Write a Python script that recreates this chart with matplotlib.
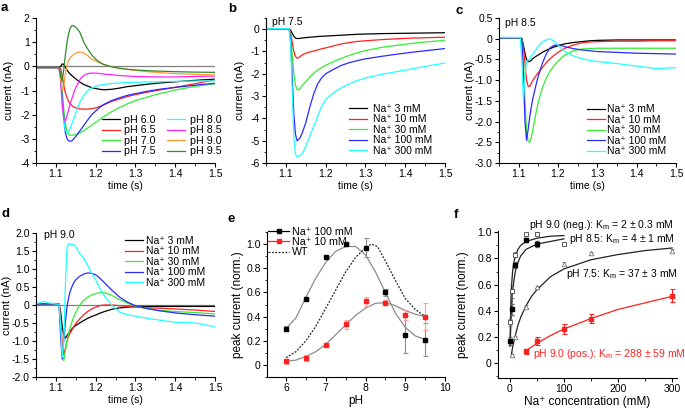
import matplotlib
matplotlib.use('Agg')
import matplotlib.pyplot as plt
from matplotlib.ticker import MultipleLocator, FuncFormatter
from matplotlib.lines import Line2D

plt.rcParams['font.family'] = ['Liberation Sans', 'DejaVu Sans']
plt.rcParams['axes.unicode_minus'] = False
plt.rcParams['font.size'] = 7.5
plt.rcParams['mathtext.fontset'] = 'custom'
plt.rcParams['mathtext.rm'] = 'Liberation Sans'
plt.rcParams['mathtext.it'] = 'Liberation Sans:italic'

# ---------------- data ----------------
# panel a: pH series at Na+ 100 mM
T_A = [1.05, 1.108, 1.112, 1.116, 1.12, 1.124, 1.128, 1.132, 1.136, 1.14, 1.145, 1.15, 1.16, 1.17,
       1.18, 1.19, 1.2, 1.21, 1.22, 1.24, 1.26, 1.28, 1.3, 1.33, 1.36, 1.4, 1.45, 1.5]
PH_LABELS = ['pH 6.0', 'pH 6.5', 'pH 7.0', 'pH 7.5', 'pH 8.0', 'pH 8.5', 'pH 9.0', 'pH 9.5']
A_PH60 = [-0.05, -0.05, 0.0, 0.1, 0.08, -0.05, -0.15, -0.25, -0.32, -0.38, -0.45, -0.52, -0.65, -0.75,
          -0.82, -0.88, -0.92, -0.95, -0.97, -0.95, -0.9, -0.84, -0.8, -0.74, -0.69, -0.64, -0.58, -0.53]
A_PH65 = [-0.05, -0.05, -0.1, -0.4, -0.8, -1.1, -1.3, -1.45, -1.55, -1.62, -1.68, -1.72, -1.76, -1.77,
          -1.77, -1.75, -1.72, -1.66, -1.6, -1.45, -1.35, -1.25, -1.17, -1.07, -0.98, -0.87, -0.72, -0.56]
A_PH70 = [-0.05, -0.05, -0.3, -1.0, -1.8, -2.4, -2.7, -2.82, -2.85, -2.85, -2.84, -2.82, -2.76, -2.66,
          -2.55, -2.43, -2.32, -2.2, -2.08, -1.88, -1.7, -1.55, -1.42, -1.27, -1.13, -0.98, -0.83, -0.72]
A_PH75 = [-0.05, -0.05, -0.4, -1.3, -2.2, -2.75, -3.0, -3.08, -3.1, -3.08, -3.0, -2.9, -2.68, -2.45,
          -2.22, -2.0, -1.85, -1.7, -1.58, -1.42, -1.3, -1.2, -1.13, -1.03, -0.95, -0.87, -0.78, -0.7]
A_PH80 = [-0.05, -0.05, -0.5, -1.5, -2.3, -2.65, -2.75, -2.7, -2.55, -2.38, -2.15, -1.92, -1.5, -1.2,
          -1.0, -0.9, -0.83, -0.78, -0.75, -0.71, -0.69, -0.67, -0.66, -0.65, -0.64, -0.62, -0.61, -0.6]
A_PH85 = [-0.05, -0.05, -0.6, -1.6, -2.2, -2.25, -2.05, -1.8, -1.55, -1.35, -1.1, -0.88, -0.55, -0.38,
          -0.3, -0.28, -0.28, -0.3, -0.32, -0.35, -0.38, -0.4, -0.42, -0.43, -0.44, -0.44, -0.42, -0.4]
A_PH90 = [-0.05, -0.05, -0.5, -1.0, -0.8, -0.3, 0.05, 0.25, 0.35, 0.42, 0.5, 0.55, 0.6, 0.55,
          0.45, 0.3, 0.22, 0.14, 0.08, -0.02, -0.08, -0.13, -0.17, -0.22, -0.26, -0.3, -0.33, -0.36]
A_PH95 = [-0.05, -0.05, -0.4, -0.6, -0.1, 0.5, 1.0, 1.35, 1.58, 1.68, 1.68, 1.62, 1.42, 1.0,
          0.72, 0.47, 0.3, 0.17, 0.08, -0.02, -0.08, -0.12, -0.15, -0.18, -0.2, -0.22, -0.24, -0.25]

NA_LABELS = ['Na\u207a 3 mM', 'Na\u207a 10 mM', 'Na\u207a 30 mM', 'Na\u207a 100 mM', 'Na\u207a 300 mM']

# panel b: pH 7.5
T_B = [1.05, 1.108, 1.112, 1.116, 1.12, 1.124, 1.128, 1.132, 1.136, 1.14, 1.145, 1.15, 1.16, 1.17,
       1.18, 1.19, 1.2, 1.22, 1.24, 1.26, 1.28, 1.3, 1.34, 1.38, 1.42, 1.46, 1.5]
B_NA3 = [0.02, 0.02, -0.05, -0.2, -0.32, -0.4, -0.42, -0.42, -0.41, -0.4, -0.39, -0.38, -0.36, -0.35,
         -0.33, -0.32, -0.31, -0.29, -0.27, -0.25, -0.23, -0.22, -0.2, -0.19, -0.18, -0.17, -0.16]
B_NA10 = [0.02, 0.02, -0.15, -0.6, -1.0, -1.22, -1.3, -1.28, -1.22, -1.17, -1.12, -1.08, -1.02, -0.98,
          -0.93, -0.88, -0.84, -0.75, -0.66, -0.6, -0.55, -0.52, -0.47, -0.43, -0.4, -0.38, -0.36]
B_NA30 = [0.02, 0.02, -0.3, -1.2, -2.0, -2.5, -2.7, -2.72, -2.65, -2.55, -2.45, -2.35, -2.15, -1.97,
          -1.83, -1.72, -1.62, -1.45, -1.3, -1.17, -1.06, -0.96, -0.82, -0.72, -0.63, -0.56, -0.5]
B_NA100 = [0.02, 0.02, -0.5, -2.2, -3.8, -4.7, -5.0, -4.95, -4.85, -4.7, -4.45, -4.2, -3.5, -2.9,
           -2.45, -2.18, -2.0, -1.8, -1.62, -1.5, -1.41, -1.33, -1.22, -1.12, -1.03, -0.95, -0.87]
B_NA300 = [0.02, 0.02, -0.7, -2.8, -4.8, -5.6, -5.72, -5.7, -5.66, -5.6, -5.45, -5.25, -4.8, -4.35,
           -3.9, -3.46, -3.15, -2.85, -2.62, -2.45, -2.3, -2.19, -2.03, -1.9, -1.77, -1.64, -1.52]

# panel c: pH 8.5
T_C = [1.05, 1.104, 1.108, 1.112, 1.116, 1.12, 1.124, 1.128, 1.132, 1.136, 1.14, 1.145, 1.15, 1.16,
       1.17, 1.18, 1.19, 1.2, 1.21, 1.22, 1.24, 1.26, 1.28, 1.3, 1.35, 1.4, 1.45, 1.5]
C_NA3 = [0.02, 0.02, 0.0, -0.15, -0.35, -0.5, -0.55, -0.55, -0.52, -0.48, -0.45, -0.42, -0.39, -0.33,
         -0.28, -0.24, -0.2, -0.17, -0.14, -0.12, -0.09, -0.07, -0.05, -0.04, -0.03, -0.03, -0.03, -0.03]
C_NA10 = [0.02, 0.02, 0.0, -0.2, -0.6, -1.0, -1.15, -1.15, -1.08, -1.0, -0.95, -0.88, -0.82, -0.7,
          -0.58, -0.48, -0.4, -0.33, -0.27, -0.22, -0.15, -0.1, -0.08, -0.07, -0.06, -0.06, -0.05, -0.05]
C_NA30 = [0.02, 0.02, 0.0, -0.5, -1.5, -2.2, -2.48, -2.5, -2.4, -2.2, -2.0, -1.75, -1.52, -1.2,
          -0.95, -0.78, -0.65, -0.55, -0.45, -0.38, -0.29, -0.25, -0.24, -0.23, -0.23, -0.23, -0.23, -0.23]
C_NA100 = [0.02, 0.02, 0.0, -0.8, -2.0, -2.45, -2.2, -1.9, -1.65, -1.45, -1.28, -1.08, -0.9, -0.6,
           -0.37, -0.22, -0.16, -0.15, -0.17, -0.2, -0.24, -0.27, -0.29, -0.31, -0.33, -0.35, -0.36, -0.37]
C_NA300 = [0.03, 0.03, -0.5, -1.45, -0.9, -0.55, -0.52, -0.48, -0.42, -0.37, -0.32, -0.25, -0.18, -0.08,
           -0.03, 0.0, -0.06, -0.15, -0.25, -0.33, -0.42, -0.48, -0.52, -0.55, -0.6, -0.66, -0.72, -0.7]

# panel d: pH 9.0
T_D = [1.05, 1.07, 1.08, 1.1, 1.108, 1.112, 1.116, 1.12, 1.124, 1.128, 1.132, 1.136, 1.14, 1.145, 1.15,
       1.16, 1.17, 1.18, 1.19, 1.2, 1.21, 1.22, 1.24, 1.26, 1.28, 1.3, 1.33, 1.36, 1.4, 1.45, 1.5]
D_NA3 = [0.03, 0.03, 0.03, 0.03, 0.03, -0.2, -0.6, -0.85, -0.92, -0.85, -0.78, -0.72, -0.67, -0.61, -0.57,
         -0.5, -0.43, -0.37, -0.32, -0.28, -0.23, -0.19, -0.12, -0.08, -0.06, -0.04, -0.04, -0.04, -0.04, -0.04, -0.04]
D_NA10 = [0.03, 0.03, 0.03, 0.03, 0.03, -0.4, -1.1, -1.38, -1.2, -1.0, -0.88, -0.78, -0.7, -0.6, -0.52,
          -0.38, -0.27, -0.18, -0.11, -0.06, -0.02, 0.0, 0.0, -0.02, -0.04, -0.06, -0.08, -0.09, -0.11, -0.14, -0.18]
D_NA30 = [0.03, 0.03, 0.03, 0.03, 0.03, -0.6, -1.4, -1.55, -1.25, -1.0, -0.8, -0.62, -0.48, -0.33, -0.2,
          0.0, 0.13, 0.22, 0.28, 0.32, 0.34, 0.35, 0.27, 0.15, 0.05, -0.03, -0.1, -0.15, -0.18, -0.21, -0.25]
D_NA100 = [0.03, 0.03, 0.03, 0.03, 0.03, -0.9, -1.5, -0.95, -0.45, -0.05, 0.2, 0.38, 0.5, 0.62, 0.7,
           0.8, 0.86, 0.89, 0.88, 0.84, 0.75, 0.64, 0.42, 0.22, 0.08, -0.02, -0.1, -0.16, -0.22, -0.27, -0.31]
D_NA300 = [0.03, 0.1, 0.06, 0.03, 0.02, -0.6, -1.45, -1.0, 0.6, 1.6, 1.7, 1.69, 1.68, 1.68, 1.62,
           1.42, 1.3, 1.1, 0.88, 0.7, 0.47, 0.28, 0.0, -0.2, -0.27, -0.31, -0.37, -0.42, -0.48, -0.5, -0.6]

# panel e: pH dependence of peak current
PH = [6.0, 6.5, 7.0, 7.5, 8.0, 8.5, 9.0, 9.5]
E_NA100 = [0.30, 0.545, 0.89, 1.0, 0.97, 0.60, 0.25, 0.21]
E_NA100_ERR = [0.02, 0.01, 0.015, 0.01, 0.08, 0.03, 0.155, 0.14]
E_NA10 = [0.03, 0.06, 0.165, 0.335, 0.525, 0.515, 0.415, 0.40]
E_NA10_ERR = [0.02, 0.025, 0.01, 0.035, 0.04, 0.02, 0.04, 0.11]
PH_FIT = [6.0, 6.25, 6.5, 6.75, 7.0, 7.25, 7.5, 7.75, 8.0, 8.25, 8.5, 8.75, 9.0, 9.25, 9.5]
E_FIT100 = [0.30, 0.39, 0.56, 0.72, 0.85, 0.94, 0.98, 0.98, 0.91, 0.77, 0.60, 0.43, 0.31, 0.24, 0.21]
E_FIT10 = [0.03, 0.04, 0.07, 0.11, 0.17, 0.25, 0.33, 0.41, 0.47, 0.51, 0.515, 0.49, 0.45, 0.42, 0.40]
PH_WT = [6.0, 6.25, 6.5, 6.75, 7.0, 7.25, 7.5, 7.75, 8.0, 8.15, 8.3, 8.5, 8.75, 9.0, 9.25, 9.5]
E_WT = [0.06, 0.11, 0.20, 0.32, 0.47, 0.62, 0.77, 0.89, 0.97, 1.0, 0.98, 0.86, 0.70, 0.55, 0.46, 0.40]

# panel f: Na+ dependence
F_C_NEG = [1, 3, 10, 30, 50, 100]
F_NEG = [0.31, 0.55, 0.83, 0.985, 0.99, 0.91]
F_NEG_ERR = [0.03, 0.05, 0.02, 0.01, 0.01, 0.01]
F_C_85 = [1, 3, 10, 30, 50]
F_85 = [0.17, 0.41, 0.75, 0.94, 0.91]
F_85_ERR = [0.03, 0.04, 0.02, 0.015, 0.02]
F_C_75 = [3, 10, 30, 50, 100, 150, 300]
F_75 = [0.06, 0.20, 0.43, 0.58, 0.76, 0.84, 0.86]
F_75_ERR = [0.01, 0.01, 0.01, 0.01, 0.01, 0.01, 0.01]
F_C_POS = [30, 50, 100, 150, 300]
F_POS = [0.09, 0.165, 0.26, 0.34, 0.515]
F_POS_ERR = [0.02, 0.03, 0.04, 0.035, 0.05]
FIT_C_NEG = [0.3, 1, 2, 3, 5, 7, 10, 15, 20, 30, 50, 75, 100]
FIT_NEG = [0.13, 0.33, 0.49, 0.59, 0.70, 0.76, 0.82, 0.87, 0.90, 0.93, 0.955, 0.97, 0.975]
FIT_C_85 = [0.6, 1, 2, 3, 5, 7, 10, 15, 20, 30, 50, 75, 100]
FIT_85 = [0.13, 0.20, 0.33, 0.42, 0.54, 0.62, 0.70, 0.77, 0.82, 0.87, 0.91, 0.93, 0.95]
FIT_C_75 = [3, 5, 10, 15, 20, 30, 40, 50, 75, 100, 150, 200, 250, 300]
FIT_75 = [0.07, 0.12, 0.21, 0.29, 0.35, 0.44, 0.51, 0.56, 0.66, 0.72, 0.79, 0.83, 0.86, 0.88]
FIT_C_POS = [30, 50, 75, 100, 150, 200, 250, 300]
FIT_POS = [0.095, 0.15, 0.21, 0.26, 0.34, 0.41, 0.46, 0.51]

COLORS_A = ['#000000', '#ff2020', '#33ee33', '#2a2aff', '#22ffff', '#ff22ff', '#ff9933', '#2e8b2e']
COLORS_NA = ['#000000', '#ff2020', '#33ee33', '#2a2aff', '#22ffff']

LBL = 8.5   # axis-label font size (panels e, f)
LBL_T = 8.0  # y-label font size in the trace panels

# ---------------- figure ----------------
W, H = 685, 408
fig = plt.figure(figsize=(W / 100, H / 100), dpi=100)


def add_ax(l, r, t, b):
    ax = fig.add_axes([l / W, 1 - b / H, (r - l) / W, (b - t) / H])
    ax._px = (l, r)
    return ax


def style(ax):
    for s in ('top', 'right'):
        ax.spines[s].set_visible(False)
    for s in ('left', 'bottom'):
        ax.spines[s].set_linewidth(0.8)
    ax.tick_params(which='major', direction='out', length=3, width=0.8, labelsize=7.5, pad=1.5)
    ax.tick_params(which='minor', direction='out', length=1.8, width=0.6)


def ylabel_at(ax, text, xpix, size):
    # xpix: right edge (in figure pixels) of the rotated label
    l, r = ax._px
    ax.set_ylabel(text, fontsize=size)
    ax.yaxis.set_label_coords((xpix - l) / (r - l), 0.5)


def fmt0(v, pos):
    if abs(v) < 1e-9:
        return '0'
    return '%.1f' % v


def time_axis(ax, ylab_x):
    ax.set_xlim(1.05, 1.5)
    ax.xaxis.set_major_locator(MultipleLocator(0.1))
    ax.xaxis.set_minor_locator(MultipleLocator(0.05))
    ax.set_xlabel('time (s)', fontsize=7.5, labelpad=1)
    ylabel_at(ax, 'current (nA)', ylab_x, LBL_T)


def panel_letter(x, y, s):
    fig.text(x / W, 1 - y / H, s, fontsize=9.5, fontweight='bold', ha='left', va='center')


leg_kw = dict(frameon=False, borderpad=0, borderaxespad=0,
              bbox_transform=fig.transFigure, loc='upper left')

# ---- a
axA = add_ax(36, 215, 18, 163)
style(axA)
axA.axhline(0, color='#808080', lw=0.9, zorder=1)
for vals, c, lab in zip([A_PH60, A_PH65, A_PH70, A_PH75, A_PH80, A_PH85, A_PH90, A_PH95], COLORS_A, PH_LABELS):
    axA.plot(T_A, vals, color=c, lw=0.9, label=lab, zorder=2)
time_axis(axA, 14)
axA.set_ylim(-4, 2)
axA.yaxis.set_major_locator(MultipleLocator(1))
axA.yaxis.set_minor_locator(MultipleLocator(0.5))
axA.legend(ncol=2, fontsize=7.7, handlelength=1.7, handletextpad=0.4, columnspacing=1.1,
           labelspacing=0.04, bbox_to_anchor=(101.5 / W, 1 - 115 / H), **leg_kw)
panel_letter(1, 8, 'a')

# ---- b
axB = add_ax(266, 445, 18, 163)
style(axB)
for vals, c, lab in zip([B_NA3, B_NA10, B_NA30, B_NA100, B_NA300], COLORS_NA, NA_LABELS):
    axB.plot(T_B, vals, color=c, lw=0.9, label=lab)
time_axis(axB, 245)
axB.set_ylim(-6, 0.5)
axB.yaxis.set_major_locator(MultipleLocator(1))
axB.yaxis.set_minor_locator(MultipleLocator(0.5))
axB.legend(fontsize=7.5, handlelength=1.7, handletextpad=0.6, labelspacing=0.04,
           bbox_to_anchor=(349 / W, 1 - 104 / H), **leg_kw)
axB.text(0.035, 0.97, 'pH 7.5', transform=axB.transAxes, fontsize=7.5, va='center')
panel_letter(228, 9, 'b')

# ---- c
axC = add_ax(499, 676, 18, 163)
style(axC)
for vals, c, lab in zip([C_NA3, C_NA10, C_NA30, C_NA100, C_NA300], COLORS_NA, NA_LABELS):
    axC.plot(T_C, vals, color=c, lw=0.9, label=lab)
time_axis(axC, 475)
axC.set_ylim(-3, 0.5)
axC.yaxis.set_major_locator(MultipleLocator(0.5))
axC.yaxis.set_minor_locator(MultipleLocator(0.25))
axC.yaxis.set_major_formatter(FuncFormatter(fmt0))
axC.legend(fontsize=7.5, handlelength=1.7, handletextpad=0.2, labelspacing=0.04,
           bbox_to_anchor=(587 / W, 1 - 104.5 / H), **leg_kw)
axC.text(0.035, 0.965, 'pH 8.5', transform=axC.transAxes, fontsize=7.5, va='center')
panel_letter(456, 11, 'c')

# ---- d
axD = add_ax(36, 215, 233, 377)
style(axD)
axD.axhline(0, color='#808080', lw=0.9, zorder=1)
for vals, c, lab in zip([D_NA3, D_NA10, D_NA30, D_NA100, D_NA300], COLORS_NA, NA_LABELS):
    axD.plot(T_D, vals, color=c, lw=0.9, label=lab, zorder=2)
time_axis(axD, 12.5)
axD.set_ylim(-2, 2)
axD.yaxis.set_major_locator(MultipleLocator(0.5))
axD.yaxis.set_minor_locator(MultipleLocator(0.25))
axD.yaxis.set_major_formatter(FuncFormatter(fmt0))
axD.legend(fontsize=7.5, handlelength=1.7, handletextpad=0.3, labelspacing=0.04,
           bbox_to_anchor=(125 / W, 1 - 236 / H), **leg_kw)
axD.text(0.045, 0.985, 'pH 9.0', transform=axD.transAxes, fontsize=7.5, va='center')
panel_letter(1, 214, 'd')

# ---- e
axE = add_ax(267, 445, 232, 377)
style(axE)
axE.plot(PH_FIT, E_FIT100, color='#8c8c8c', lw=0.9, zorder=1)
axE.plot(PH_FIT, E_FIT10, color='#8c8c8c', lw=0.9, zorder=1)
axE.plot(PH_WT, E_WT, color='#222222', lw=0.9, ls=(0, (1.5, 1.2)), zorder=1)
axE.errorbar(PH, E_NA100, yerr=E_NA100_ERR, fmt='s', ms=3.3, color='#000000', ecolor='#8c8c8c',
             elinewidth=0.8, capsize=1.8, capthick=0.8, zorder=3)
axE.errorbar(PH, E_NA10, yerr=E_NA10_ERR, fmt='s', ms=3.3, color='#ff2020', ecolor='#ff9c9c',
             elinewidth=0.8, capsize=1.8, capthick=0.8, zorder=3)
axE.set_xlim(5.52, 10)
axE.set_ylim(-0.1, 1.1)
axE.xaxis.set_major_locator(MultipleLocator(1))
axE.xaxis.set_minor_locator(MultipleLocator(0.5))
axE.yaxis.set_major_locator(MultipleLocator(0.2))
axE.yaxis.set_minor_locator(MultipleLocator(0.1))
axE.yaxis.set_major_formatter(FuncFormatter(fmt0))
axE.set_xlabel('pH', fontsize=LBL, labelpad=1)
ylabel_at(axE, 'peak current (norm.)', 244, LBL)
handlesE = [Line2D([], [], color='#000000', lw=0.9, marker='s', ms=3),
            Line2D([], [], color='#ff2020', lw=0.9, marker='s', ms=3),
            Line2D([], [], color='#222222', lw=0.9, ls=(0, (1.5, 1.2)))]
axE.legend(handlesE, ['Na\u207a 100 mM', 'Na\u207a 10 mM', 'WT'], fontsize=7.7, handlelength=2.0,
           labelspacing=0.02, handletextpad=0.25, frameon=False, borderpad=0, borderaxespad=0,
           bbox_transform=fig.transFigure, loc='upper left', bbox_to_anchor=(268 / W, 1 - 227 / H))
panel_letter(228, 219, 'e')

# ---- f
axF = add_ax(498, 677, 231, 378)
style(axF)
axF.plot(FIT_C_NEG, FIT_NEG, color='#222222', lw=0.9, zorder=1)
axF.plot(FIT_C_85, FIT_85, color='#222222', lw=0.9, zorder=1)
axF.plot(FIT_C_75, FIT_75, color='#222222', lw=0.9, zorder=1)
axF.plot(FIT_C_POS, FIT_POS, color='#ff2020', lw=0.9, zorder=1)
axF.errorbar(F_C_75, F_75, yerr=F_75_ERR, fmt='^', ms=3.3, mfc='white', mec='#777777', mew=0.6,
             ecolor='#777777', elinewidth=0.6, capsize=1.5, zorder=3)
axF.errorbar(F_C_NEG, F_NEG, yerr=F_NEG_ERR, fmt='s', ms=3.0, mfc='white', mec='#444444', mew=0.6,
             ecolor='#666666', elinewidth=0.6, capsize=1.5, zorder=3)
axF.errorbar(F_C_85, F_85, yerr=F_85_ERR, fmt='s', ms=3.0, color='#000000',
             ecolor='#666666', elinewidth=0.6, capsize=1.5, zorder=4)
axF.errorbar(F_C_POS, F_POS, yerr=F_POS_ERR, fmt='s', ms=3.3, color='#ff2020',
             ecolor='#ff2020', elinewidth=0.8, capsize=1.8, capthick=0.8, zorder=3)
axF.set_xlim(-22, 309)
axF.set_ylim(-0.115, 1.01)
axF.xaxis.set_major_locator(MultipleLocator(100))
axF.xaxis.set_minor_locator(MultipleLocator(50))
axF.yaxis.set_major_locator(MultipleLocator(0.2))
axF.yaxis.set_minor_locator(MultipleLocator(0.1))
axF.yaxis.set_major_formatter(FuncFormatter(fmt0))
axF.set_xlabel('Na\u207a concentration (mM)', fontsize=LBL, labelpad=1)
ylabel_at(axF, 'peak current (norm.)', 469, LBL)
fig.text(529 / W, 1 - 225 / H, 'pH 9.0 (neg.): K$_\\mathrm{m}$ = 2 \u00b1 0.3 mM', fontsize=7.5, va='center')
fig.text(569 / W, 1 - 238.5 / H, 'pH 8.5: K$_\\mathrm{m}$ = 4 \u00b1 1 mM', fontsize=7.5, va='center')
fig.text(566 / W, 1 - 274 / H, 'pH 7.5: K$_\\mathrm{m}$ = 37 \u00b1 3 mM', fontsize=7.5, va='center')
fig.text(533 / W, 1 - 354 / H, 'pH 9.0 (pos.): K$_\\mathrm{m}$ = 288 \u00b1 59 mM', fontsize=7.5,
         va='center', color='#ff2020')
panel_letter(454, 215, 'f')

fig.savefig('out.png', dpi=100)
